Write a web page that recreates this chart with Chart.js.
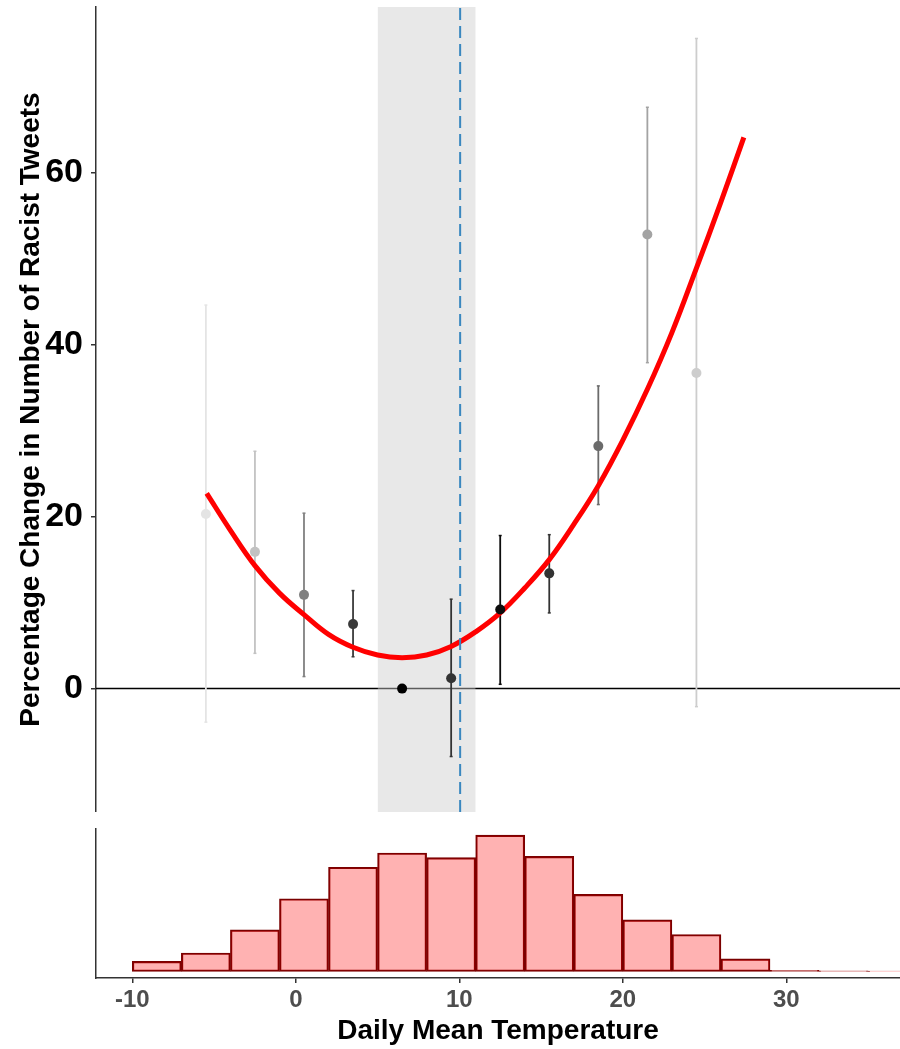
<!DOCTYPE html>
<html>
<head>
<meta charset="utf-8">
<script src="https://cdn.jsdelivr.net/npm/chart.js@4.4.1/dist/chart.umd.min.js"></script>
<style>
  body { margin: 0; background: #fff; }
  #top { position: absolute; left: 0; top: 0; }
  #bottom { position: absolute; left: 0; top: 815px; }
</style>
</head>
<body>
<canvas id="top" width="900" height="812"></canvas>
<canvas id="bottom" width="900" height="234"></canvas>
<script>
// binned estimates
const binTemps = [-5.5, -2.5, 0.5, 3.5, 6.5, 9.5, 12.5, 15.5, 18.5, 21.5, 24.5];
const pctChange = [20.3, 15.9, 10.9, 7.5, 0, 1.2, 9.2, 13.4, 28.2, 52.8, 36.7];
const ciLow = [-3.9, 4.1, 1.4, 3.7, null, -7.9, 0.5, 8.8, 21.4, 37.9, -2.1];
const ciHigh = [44.6, 27.6, 20.4, 11.4, null, 10.4, 17.8, 17.9, 35.2, 67.6, 75.6];
const pointGreys = ['#e4e4e4', '#c2c2c2', '#808080', '#3a3a3a', '#000000', '#333333',
                    '#0d0d0d', '#333333', '#6b6b6b', '#a3a3a3', '#cdcdcd'];

// red fitted curve, read along its length
const fitTemps = [-5.45, -4, -2.5, -1, 0.5, 2, 3.5, 5, 6.5, 8, 9.5, 11, 12.5, 14,
                  15.5, 17, 18.5, 20, 21.5, 23, 24.5, 26, 27.4];
const fitValues = [22.7, 18.4, 14.3, 11.1, 8.6, 6.3, 4.8, 3.9, 3.6, 3.9, 4.9, 6.6, 8.8, 11.7,
                   15.0, 19.1, 23.6, 28.9, 34.8, 41.4, 48.9, 56.6, 64.1];

const refBand = [5, 11];
const refLine = 10.05;

const yTicks = [0, 20, 40, 60];
const xTicks = [-10, 0, 10, 20, 30];

// histogram of days by temperature (3 degree bins, left edges)
const histEdges = [-10, -7, -4, -1, 2, 5, 8, 11, 14, 17, 20, 23, 26, 29, 32, 35];
const histCounts = [10.3, 18.7, 42, 73.3, 105, 119.3, 114.7, 137.3, 116, 77.7, 52, 37.3, 12.7, 1.3, 0.7, 0.5];
const binWidth = 3;

const xMin = -12.22, xMax = 36.95;
const yMin = -14.35, yMax = 79.26;

const font = 'Liberation Sans, Arial, sans-serif';

function fixScale(width, height) {
    return function (s) {
        if (width !== null) s.width = width;
        if (height !== null) s.height = height;
        s.paddingTop = 0; s.paddingBottom = 0; s.paddingLeft = 0; s.paddingRight = 0;
    };
}

// ---- top panel ----
const datasets = [];

datasets.push({
    data: [{x: xMin, y: 0}, {x: xMax, y: 0}],
    showLine: true, borderColor: '#000', borderWidth: 1.5, pointRadius: 0, order: 10
});
datasets.push({
    data: [{x: refBand[0], y: yMax}, {x: refBand[1], y: yMax}],
    showLine: true, borderWidth: 0, pointRadius: 0, fill: 'start',
    backgroundColor: 'rgba(205,205,205,0.45)', order: 9
});
binTemps.forEach((t, i) => {
    if (ciLow[i] === null) return;
    datasets.push({
        data: [{x: t, y: ciLow[i]}, {x: t, y: ciHigh[i]}],
        showLine: true, borderColor: pointGreys[i], borderWidth: 1.8,
        pointStyle: 'line', pointRadius: 1.5, pointBorderWidth: 1.5,
        pointBorderColor: pointGreys[i], order: 8
    });
});
datasets.push({
    data: fitTemps.map((t, i) => ({x: t, y: fitValues[i]})),
    showLine: true, borderColor: '#ff0000', borderWidth: 5, tension: 0.4,
    pointRadius: 0, borderCapStyle: 'butt', order: 7
});
datasets.push({
    data: binTemps.map((t, i) => ({x: t, y: pctChange[i]})),
    pointRadius: 5, pointBackgroundColor: pointGreys, pointBorderWidth: 0, order: 6
});
datasets.push({
    data: [{x: refLine, y: yMin}, {x: refLine, y: yMax}],
    showLine: true, borderColor: '#3a87bf', borderWidth: 2, borderDash: [12, 6],
    pointRadius: 0, order: 5
});

new Chart(document.getElementById('top'), {
    type: 'scatter',
    data: {datasets: datasets},
    options: {
        responsive: false,
        animation: false,
        devicePixelRatio: 1,
        layout: {autoPadding: false, padding: {top: 7, left: 0, right: 0, bottom: 0}},
        plugins: {legend: {display: false}, tooltip: {enabled: false}},
        scales: {
            x: {type: 'linear', display: false, min: xMin, max: xMax},
            y: {
                type: 'linear', min: yMin, max: yMax,
                afterBuildTicks: s => { s.ticks = yTicks.map(v => ({value: v})); },
                afterFit: fixScale(96, null),
                ticks: {font: {family: font, size: 34, weight: 'bold'}, color: '#000', padding: 8},
                grid: {drawOnChartArea: false, tickLength: 5, color: '#333', lineWidth: 1.5},
                border: {color: '#333', width: 1.5},
                title: {
                    display: true, text: 'Percentage Change in Number of Racist Tweets',
                    font: {family: font, size: 28, weight: 'bold'}, color: '#000',
                    padding: {top: 14, bottom: 0}
                }
            }
        }
    }
});

// ---- bottom panel: histogram ----
new Chart(document.getElementById('bottom'), {
    type: 'bar',
    data: {
        datasets: [{
            data: histEdges.map((e, i) => ({x: e + binWidth / 2, y: histCounts[i]})),
            backgroundColor: 'rgba(255,0,0,0.3)',
            borderColor: '#7a0000',
            borderWidth: 1.5,
            borderSkipped: false,
            barPercentage: 1,
            categoryPercentage: 1
        }]
    },
    options: {
        responsive: false,
        animation: false,
        devicePixelRatio: 1,
        layout: {autoPadding: false, padding: {top: 14, left: 0, right: 0, bottom: 0}},
        plugins: {legend: {display: false}, tooltip: {enabled: false}},
        scales: {
            x: {
                type: 'linear', min: xMin, max: xMax, offset: false,
                afterBuildTicks: s => { s.ticks = xTicks.map(v => ({value: v})); },
                afterFit: fixScale(null, 71),
                ticks: {font: {family: font, size: 24, weight: 'bold'}, color: '#4d4d4d', padding: 3, maxRotation: 0},
                grid: {drawOnChartArea: false, offset: false, tickLength: 5, color: '#333', lineWidth: 1.5},
                border: {color: '#333', width: 1.5},
                title: {
                    display: true, text: 'Daily Mean Temperature',
                    font: {family: font, size: 28, weight: 'bold'}, color: '#000',
                    padding: {top: 0, bottom: 1}
                }
            },
            y: {
                type: 'linear', min: -6.5, max: 143.5,
                afterFit: fixScale(96, null),
                ticks: {display: false},
                grid: {display: false},
                border: {color: '#333', width: 1.5}
            }
        }
    }
});
</script>
</body>
</html>
